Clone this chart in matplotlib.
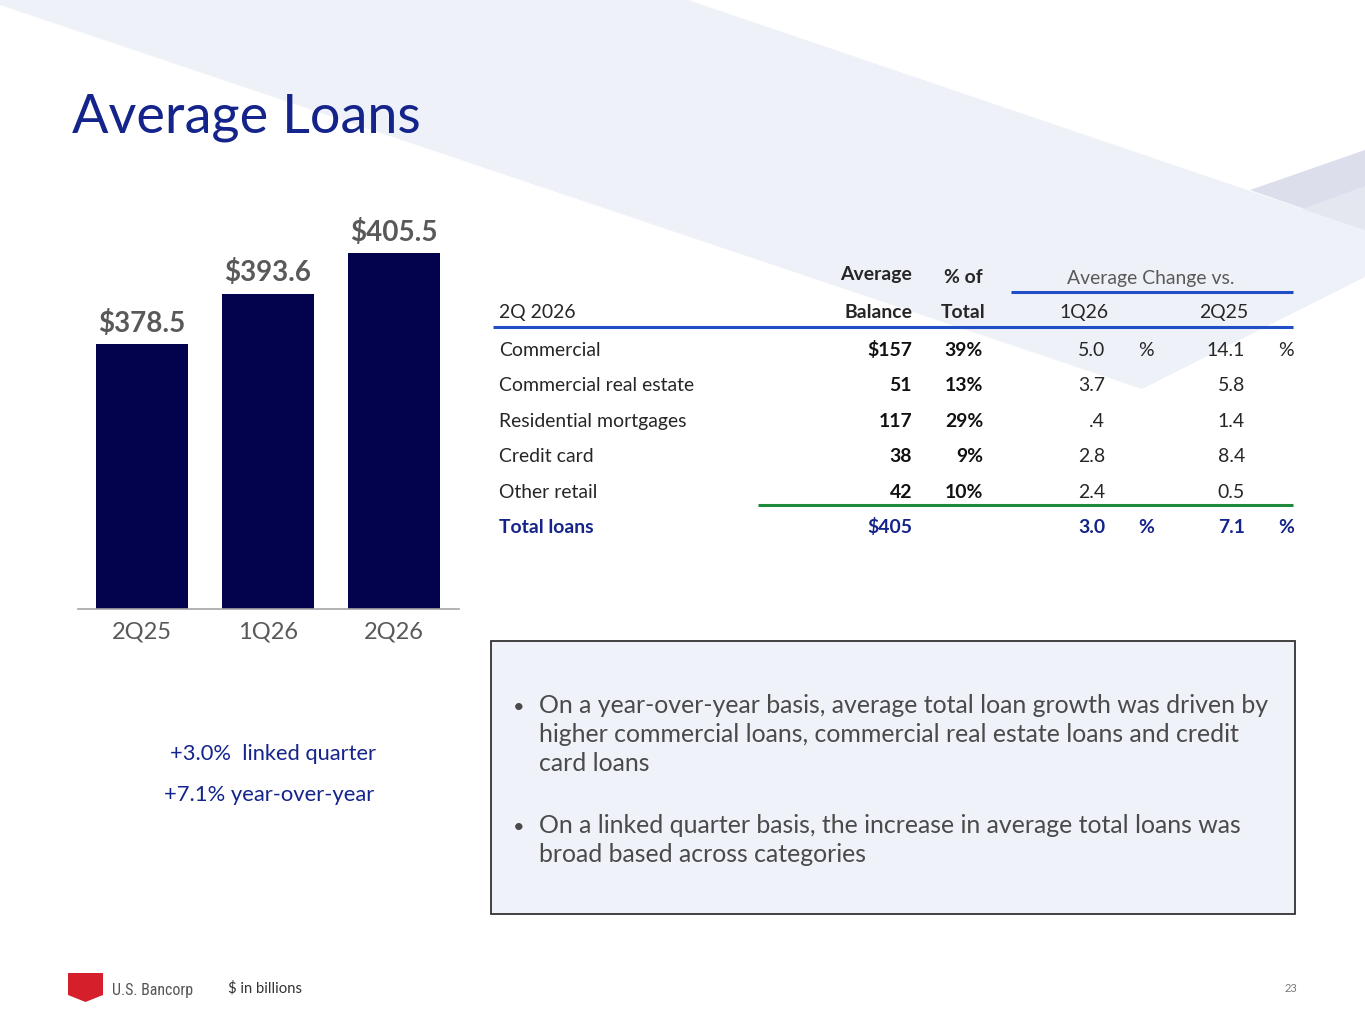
import matplotlib
matplotlib.use("Agg")
import matplotlib.pyplot as plt
from matplotlib.patches import Polygon, Rectangle

# ---------------- data ----------------
quarters = ["2Q25", "1Q26", "2Q26"]
avg_loans = [378.5, 393.6, 405.5]

categories = ["Commercial", "Commercial real estate", "Residential mortgages",
              "Credit card", "Other retail"]
balances = ["$157", "51", "117", "38", "42"]
pct_of_total = ["39%", "13%", "29%", "9%", "10%"]
chg_vs_1q26 = ["5.0", "3.7", ".4", "2.8", "2.4"]
chg_vs_2q25 = ["14.1", "5.8", "1.4", "8.4", "0.5"]
pct_sign_rows = [True, False, False, False, False]
total_label = "Total loans"
total_balance = "$405"
total_chg_1q26 = "3.0"
total_chg_2q25 = "7.1"

growth_notes = ["+3.0%  linked quarter", "+7.1% year-over-year"]
bullets = [
    ["On a year-over-year basis, average total loan growth was driven by",
     "higher commercial loans, commercial real estate loans and credit",
     "card loans"],
    ["On a linked quarter basis, the increase in average total loans was",
     "broad based across categories"],
]

# ---------------- style ----------------
FONT = ["Lato", "DejaVu Sans"]
plt.rcParams["font.family"] = FONT
NAVY_T = "#14248a"
BAR = "#03034d"
GRAY_LBL = "#595959"
DARK = "#262626"
BLUE_LINE = "#1f4ec6"
GREEN_LINE = "#1e8a3a"

W, H = 1365, 1024
fig = plt.figure(figsize=(W / 100, H / 100), dpi=100)
fig.patch.set_facecolor("white")
renderer = fig.canvas.get_renderer()

bg = fig.add_axes([0, 0, 1, 1], zorder=0)
bg.set_xlim(0, W)
bg.set_ylim(H, 0)
bg.axis("off")


def fit(t, width_px):
    bb = t.get_window_extent(renderer)
    t.set_fontsize(t.get_fontsize() * width_px / bb.width)
    return t


# background decoration
bg.add_patch(Polygon([(0, 0), (688, 0), (1365, 230), (1365, 277), (1142, 389), (0, 5)],
                     closed=True, facecolor="#eef1f7", edgecolor="none"))
bg.add_patch(Polygon([(1250, 190), (1365, 150), (1365, 230)],
                     closed=True, facecolor="#dcdfeb", edgecolor="none"))
bg.add_patch(Polygon([(1302, 209), (1365, 186), (1365, 230)],
                     closed=True, facecolor="#e4e7f0", edgecolor="none"))

# title
t = bg.text(72, 133, "Average Loans", color=NAVY_T, fontsize=42, va="baseline", ha="left")
fit(t, 349)

# ---------------- bar chart ----------------
ax_left, ax_right, ax_bottom, ax_top = 78, 459, 609, 200
ax = fig.add_axes([ax_left / W, (H - ax_bottom) / H, (ax_right - ax_left) / W,
                   (ax_bottom - ax_top) / H], zorder=1)
ax.patch.set_alpha(0)
x = list(range(len(quarters)))
bars = ax.bar(x, avg_loans, width=0.73, color=BAR, zorder=2)
ax.set_ylim(300, 300 + (ax_bottom - ax_top) / 3.37)
ax.set_xlim(-0.508, 2.516)
for s in ["top", "right", "left"]:
    ax.spines[s].set_visible(False)
ax.spines["bottom"].set_color("#a6a6a6")
ax.spines["bottom"].set_linewidth(1.2)
ax.set_yticks([])
ax.set_xticks(x)
ax.set_xticklabels(quarters, color=GRAY_LBL, fontsize=17)
ax.tick_params(axis="x", length=0, pad=9)
for xi, v in zip(x, avg_loans):
    ax.annotate(f"${v:.1f}", (xi, v), xytext=(0, 9), textcoords="offset points",
                ha="center", va="baseline", fontsize=20, fontweight="bold",
                color=GRAY_LBL)

# growth notes
n1 = bg.text(170, 760, growth_notes[0], color=NAVY_T, fontsize=15, va="baseline", ha="left")
fit(n1, 206)
n2 = bg.text(164, 801, growth_notes[1], color=NAVY_T, fontsize=15, va="baseline", ha="left")
fit(n2, 210)

# ---------------- table ----------------
probe = bg.text(0, -100, categories[1], fontsize=13)
fit(probe, 195)
TFS = probe.get_fontsize()
probe.remove()

bg.text(912, 280, "Average", ha="right", va="baseline", fontsize=TFS, fontweight="bold", color=DARK)
bg.text(963, 283, "% of", ha="center", va="baseline", fontsize=TFS, fontweight="bold", color=DARK)
bg.text(1151, 284, "Average Change vs.", ha="center", va="baseline", fontsize=TFS, color=GRAY_LBL)
bg.plot([1011, 1293], [291.5, 291.5], color=BLUE_LINE, lw=2.2, solid_capstyle="butt")

bg.text(499, 318, "2Q 2026", ha="left", va="baseline", fontsize=TFS, color=DARK)
bg.text(912, 318, "Balance", ha="right", va="baseline", fontsize=TFS, fontweight="bold", color=DARK)
bg.text(963, 318, "Total", ha="center", va="baseline", fontsize=TFS, fontweight="bold", color=DARK)
bg.text(1084, 318, "1Q26", ha="center", va="baseline", fontsize=TFS, color=DARK)
bg.text(1224, 318, "2Q25", ha="center", va="baseline", fontsize=TFS, color=DARK)
bg.plot([493, 1293], [326.5, 326.5], color=BLUE_LINE, lw=2.2, solid_capstyle="butt")

row_y0, row_dy = 356, 35.4
for i, cat in enumerate(categories):
    yb = row_y0 + i * row_dy
    bg.text(499, yb, cat, ha="left", va="baseline", fontsize=TFS, color=DARK)
    bg.text(912, yb, balances[i], ha="right", va="baseline", fontsize=TFS, fontweight="bold", color="#111111")
    bg.text(983, yb, pct_of_total[i], ha="right", va="baseline", fontsize=TFS, fontweight="bold", color="#111111")
    bg.text(1105, yb, chg_vs_1q26[i], ha="right", va="baseline", fontsize=TFS, color=DARK)
    bg.text(1245, yb, chg_vs_2q25[i], ha="right", va="baseline", fontsize=TFS, color=DARK)
    if pct_sign_rows[i]:
        bg.text(1146, yb, "%", ha="center", va="baseline", fontsize=TFS, color=DARK)
        bg.text(1286, yb, "%", ha="center", va="baseline", fontsize=TFS, color=DARK)

bg.plot([758, 1293], [505, 505], color=GREEN_LINE, lw=2.2, solid_capstyle="butt")
yb = row_y0 + len(categories) * row_dy
for xx, s, ha in [(499, total_label, "left"), (912, total_balance, "right"),
                  (1105, total_chg_1q26, "right"), (1146, "%", "center"),
                  (1245, total_chg_2q25, "right"), (1286, "%", "center")]:
    bg.text(xx, yb, s, ha=ha, va="baseline", fontsize=TFS, fontweight="bold", color=NAVY_T)

# ---------------- commentary box ----------------
bg.add_patch(Rectangle((491, 641), 804, 273, facecolor="#eff2f9", edgecolor="#333333", lw=1.3))
probe = bg.text(0, -100, bullets[0][0], fontsize=17)
fit(probe, 732)
BFS = probe.get_fontsize()
probe.remove()
line_dy = 28.8
starts = [713, 833]
for b, y0 in zip(bullets, starts):
    bg.text(519, y0, "\u2022", ha="center", va="baseline", fontsize=BFS * 0.8, color="#4a4a4a")
    for j, ln in enumerate(b):
        bg.text(539, y0 + j * line_dy, ln, ha="left", va="baseline", fontsize=BFS, color="#4a4a4a")

# ---------------- footer ----------------
bg.add_patch(Polygon([(68, 973), (103, 973), (103, 995), (85.5, 1002), (68, 995)],
                     closed=True, facecolor="#d51f2b", edgecolor="none"))
f1 = bg.text(112, 995, "U.S. Bancorp", ha="left", va="baseline", fontsize=11,
             color="#555555", family=["Roboto Condensed", "Roboto", "DejaVu Sans"])
fit(f1, 82)
f2 = bg.text(228, 993, "$ in billions", ha="left", va="baseline", fontsize=10, color="#333333")
fit(f2, 74)
bg.text(1297, 992, "23", ha="right", va="baseline", fontsize=8, color="#777777")

fig.savefig("out.png", dpi=100, facecolor="white")
